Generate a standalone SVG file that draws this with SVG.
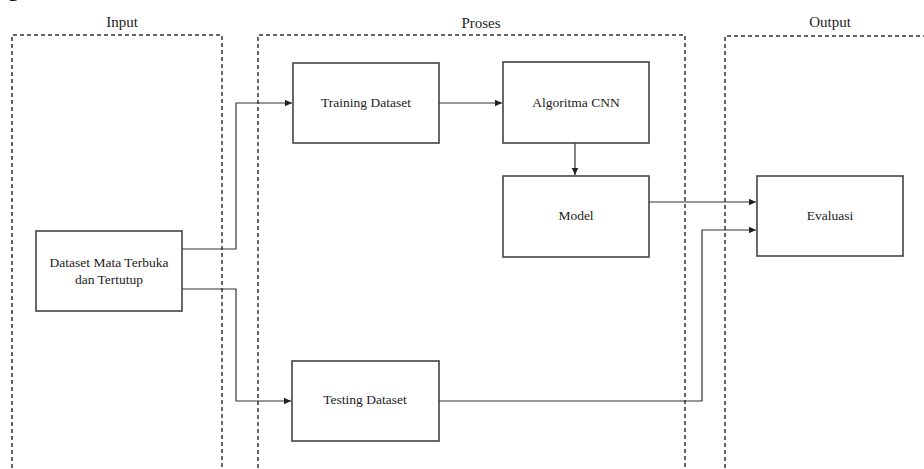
<svg xmlns="http://www.w3.org/2000/svg" width="924" height="469" viewBox="0 0 924 469">
<style>
.lbl{font-family:"Liberation Serif","Times New Roman",serif;font-size:15px;fill:#222;text-anchor:middle}
.t{font-family:"Liberation Serif","Times New Roman",serif;font-size:13.5px;fill:#222;text-anchor:middle}
.box{fill:#fff;stroke:#444;stroke-width:1.6}
.grp{fill:none;stroke:#333;stroke-width:1.5;stroke-dasharray:4 3}
.con{fill:none;stroke:#333;stroke-width:1.2;marker-end:url(#ah)}
</style>
<defs>
<marker id="ah" markerWidth="8" markerHeight="8" refX="7" refY="4" orient="auto" markerUnits="userSpaceOnUse">
<path d="M0,0.8 L7,4 L0,7.2 Z" fill="#222"/>
</marker>
</defs>
<rect width="924" height="469" fill="#fff"/>
<text x="8" y="-4" style="font-family:'Liberation Serif',serif;font-weight:bold;font-size:22px;fill:#111">g</text>
<g id="groups">
<path class="grp" d="M12,475 V35 H222 V475"/>
<path class="grp" d="M258,475 V35 H685 V475"/>
<path class="grp" d="M725,475 V36 H930"/>
<text class="lbl" x="122" y="27">Input</text>
<text class="lbl" x="481" y="28">Proses</text>
<text class="lbl" x="830" y="27">Output</text>
</g>
<g id="connectors">
<path class="con" d="M182,249 H236 V103 H292"/>
<path class="con" d="M182,289 H236 V401 H291"/>
<path class="con" d="M439,103 H502"/>
<path class="con" d="M575,143 V175"/>
<path class="con" d="M649,202 H756"/>
<path class="con" d="M439,401 H702 V230 H756"/>
</g>
<g id="dataset">
<rect class="box" x="36" y="231" width="146" height="80"/>
<text class="t" x="109" y="267">Dataset Mata Terbuka</text>
<text class="t" x="109" y="284">dan Tertutup</text>
</g>
<g id="training">
<rect class="box" x="293" y="63" width="146" height="80"/>
<text class="t" x="366" y="107">Training Dataset</text>
</g>
<g id="cnn">
<rect class="box" x="503" y="62" width="146" height="81"/>
<text class="t" x="576" y="107">Algoritma CNN</text>
</g>
<g id="model">
<rect class="box" x="503" y="176" width="146" height="81"/>
<text class="t" x="576" y="220">Model</text>
</g>
<g id="testing">
<rect class="box" x="292" y="361" width="147" height="80"/>
<text class="t" x="365" y="404">Testing Dataset</text>
</g>
<g id="evaluasi">
<rect class="box" x="757" y="176" width="146" height="80"/>
<text class="t" x="830" y="220">Evaluasi</text>
</g>
</svg>
